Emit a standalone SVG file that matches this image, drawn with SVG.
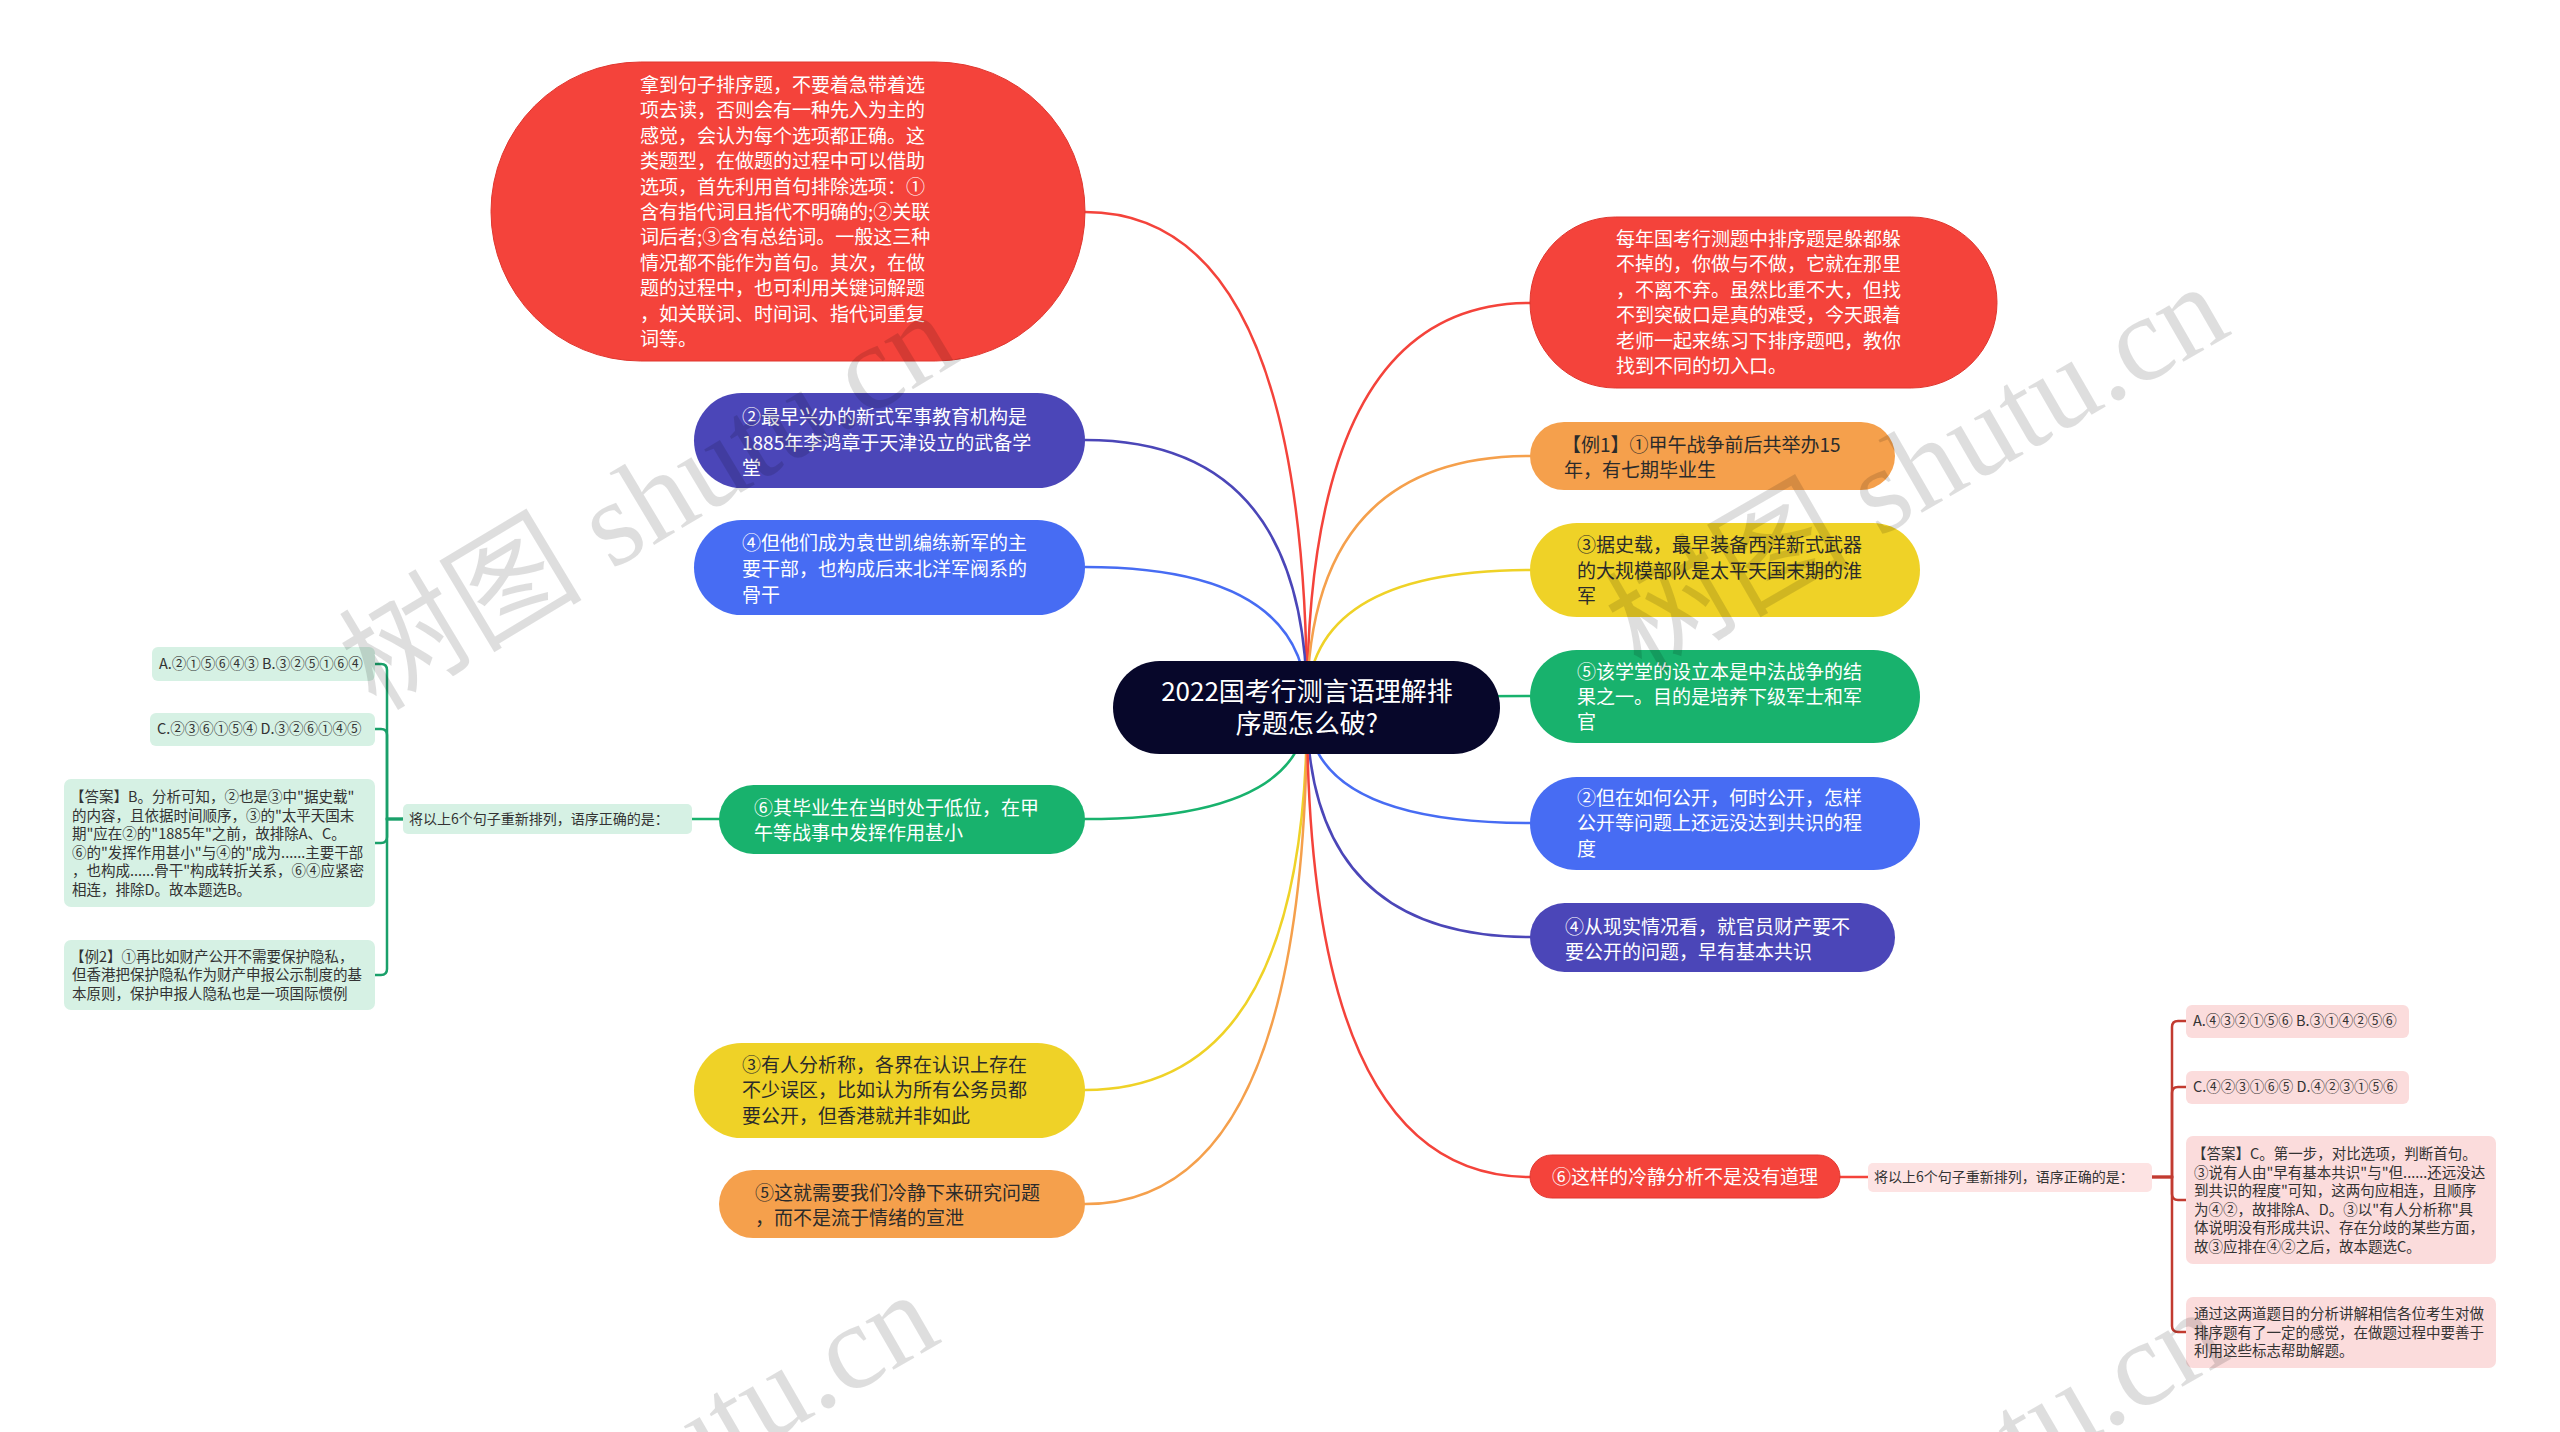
<svg xmlns="http://www.w3.org/2000/svg" width="2560" height="1432" viewBox="0 0 2560 1432">
<style>
.t{font-family:"Noto Sans CJK SC","Liberation Sans",sans-serif;font-size:19px;fill:#ffffff}
.d{fill:#2b2b2b}
.s{font-family:"Noto Sans CJK SC","Liberation Sans",sans-serif;font-size:14.5px;fill:#333333}
.c{fill:none;stroke-width:2.5;stroke-linecap:round}
.wm{font-family:"Liberation Serif","Noto Sans CJK SC",serif;font-size:122px;fill:#000000;fill-opacity:0.13}
</style>
<rect width="2560" height="1432" fill="#ffffff"/>
<g id="connectors">
<path class="c" stroke="#f4433b" d="M1307 707 Q1307 212 1085 212"/>
<path class="c" stroke="#4b46b8" d="M1307 707 Q1307 440 1085 440"/>
<path class="c" stroke="#476cf3" d="M1307 707 Q1307 567 1085 567"/>
<path class="c" stroke="#18b26d" d="M1307 707 Q1307 819 1085 819"/>
<path class="c" stroke="#efd227" d="M1307 707 Q1307 1090 1085 1090"/>
<path class="c" stroke="#f5a04c" d="M1307 707 Q1307 1204 1085 1204"/>
<path class="c" stroke="#f4433b" d="M1307 707 Q1307 303 1530 303"/>
<path class="c" stroke="#f5a04c" d="M1307 707 Q1307 456 1530 456"/>
<path class="c" stroke="#efd227" d="M1307 707 Q1307 570 1530 570"/>
<path class="c" stroke="#18b26d" d="M1307 707 Q1307 696 1530 696"/>
<path class="c" stroke="#476cf3" d="M1307 707 Q1307 823 1530 823"/>
<path class="c" stroke="#4b46b8" d="M1307 707 Q1307 937 1530 937"/>
<path class="c" stroke="#f4433b" d="M1307 707 Q1307 1177 1530 1177"/>
<path class="c" stroke="#18b26d" d="M692 819 H719"/>
<path class="c" stroke="#f4433b" d="M1840 1177 H1868"/>
<path class="c" stroke="#1aa06a" d="M403 819 H387 V670 Q387 664 381 664 H375"/>
<path class="c" stroke="#1aa06a" d="M403 819 H387 V735 Q387 729 381 729 H375"/>
<path class="c" stroke="#1aa06a" d="M403 819 H387 V837 Q387 843 381 843 H375"/>
<path class="c" stroke="#1aa06a" d="M403 819 H387 V969 Q387 975 381 975 H375"/>
<path class="c" stroke="#c23b30" d="M2152 1177 H2172 V1027 Q2172 1021 2178 1021 H2186"/>
<path class="c" stroke="#c23b30" d="M2152 1177 H2172 V1093 Q2172 1087 2178 1087 H2186"/>
<path class="c" stroke="#c23b30" d="M2152 1177 H2172 V1194 Q2172 1200 2178 1200 H2186"/>
<path class="c" stroke="#c23b30" d="M2152 1177 H2172 V1326 Q2172 1332 2178 1332 H2186"/>
</g>
<g id="root">
<rect x="1113" y="661" width="387" height="93" rx="46.5" fill="#07072a"/>
<text class="t" style="font-size:26px" text-anchor="middle" x="1307" y="701">2022国考行测言语理解排</text>
<text class="t" style="font-size:26px" text-anchor="middle" x="1307" y="733">序题怎么破?</text>
</g>
<g id="n-left-red">
<rect x="491" y="62" width="594" height="299" rx="149.5" fill="#f4433b" stroke="#e0372f"/>
<text class="t" x="640"><tspan x="640" y="92">拿到句子排序题，不要着急带着选</tspan><tspan x="640" y="117.4">项去读，否则会有一种先入为主的</tspan><tspan x="640" y="142.8">感觉，会认为每个选项都正确。这</tspan><tspan x="640" y="168.2">类题型，在做题的过程中可以借助</tspan><tspan x="640" y="193.6">选项，首先利用首句排除选项：①</tspan><tspan x="640" y="219">含有指代词且指代不明确的;②关联</tspan><tspan x="640" y="244.4">词后者;③含有总结词。一般这三种</tspan><tspan x="640" y="269.8">情况都不能作为首句。其次，在做</tspan><tspan x="640" y="295.2">题的过程中，也可利用关键词解题</tspan><tspan x="640" y="320.6">，如关联词、时间词、指代词重复</tspan><tspan x="640" y="346">词等。</tspan></text>
</g>
<g id="n-left-2">
<rect x="694" y="393" width="391" height="95" rx="47.5" fill="#4b46b8"/>
<text class="t"><tspan x="742" y="424">②最早兴办的新式军事教育机构是</tspan><tspan x="742" y="450">1885年李鸿章于天津设立的武备学</tspan><tspan x="742" y="475">堂</tspan></text>
</g>
<g id="n-left-4">
<rect x="694" y="520" width="391" height="95" rx="47.5" fill="#476cf3"/>
<text class="t"><tspan x="742" y="550">④但他们成为袁世凯编练新军的主</tspan><tspan x="742" y="576">要干部，也构成后来北洋军阀系的</tspan><tspan x="742" y="602">骨干</tspan></text>
</g>
<g id="n-left-6">
<rect x="719" y="785" width="366" height="69" rx="34.5" fill="#18b26d"/>
<text class="t"><tspan x="754" y="815">⑥其毕业生在当时处于低位，在甲</tspan><tspan x="754" y="840">午等战事中发挥作用甚小</tspan></text>
</g>
<g id="n-left-3">
<rect x="694" y="1043" width="391" height="95" rx="47.5" fill="#efd227"/>
<text class="t d"><tspan x="742" y="1072">③有人分析称，各界在认识上存在</tspan><tspan x="742" y="1097">不少误区，比如认为所有公务员都</tspan><tspan x="742" y="1123">要公开，但香港就并非如此</tspan></text>
</g>
<g id="n-left-5">
<rect x="719" y="1170" width="366" height="68" rx="34" fill="#f5a04c"/>
<text class="t d"><tspan x="755" y="1200">⑤这就需要我们冷静下来研究问题</tspan><tspan x="755" y="1225">，而不是流于情绪的宣泄</tspan></text>
</g>
<g id="n-left-label">
<rect x="403" y="804" width="289" height="30" rx="5" fill="#d6f1e4"/>
<text class="s" style="font-size:14px" x="409" y="824">将以上6个句子重新排列，语序正确的是：</text>
</g>
<g id="n-left-a">
<rect x="152" y="647" width="223" height="34" rx="6" fill="#d6f1e4"/>
<text class="s" x="159" y="669">A.②①⑤⑥④③ B.③②⑤①⑥④</text>
</g>
<g id="n-left-c">
<rect x="150" y="713" width="225" height="33" rx="6" fill="#d6f1e4"/>
<text class="s" x="157" y="734">C.②③⑥①⑤④ D.③②⑥①④⑤</text>
</g>
<g id="n-left-ans">
<rect x="64" y="779" width="311" height="128" rx="7" fill="#d6f1e4"/>
<text class="s"><tspan x="70" y="802">【答案】B。分析可知，②也是③中"据史载"</tspan><tspan x="72" y="820.5">的内容，且依据时间顺序，③的"太平天国末</tspan><tspan x="72" y="839">期"应在②的"1885年"之前，故排除A、C。</tspan><tspan x="72" y="857.5">⑥的"发挥作用甚小"与④的"成为......主要干部</tspan><tspan x="72" y="876">，也构成......骨干"构成转折关系，⑥④应紧密</tspan><tspan x="72" y="894.5">相连，排除D。故本题选B。</tspan></text>
</g>
<g id="n-left-ex2">
<rect x="64" y="940" width="311" height="70" rx="7" fill="#d6f1e4"/>
<text class="s"><tspan x="70" y="961.5">【例2】①再比如财产公开不需要保护隐私，</tspan><tspan x="72" y="980">但香港把保护隐私作为财产申报公示制度的基</tspan><tspan x="72" y="998.5">本原则，保护申报人隐私也是一项国际惯例</tspan></text>
</g>
<g id="n-right-red">
<rect x="1530" y="217" width="467" height="171" rx="85.5" fill="#f4433b" stroke="#e0372f"/>
<text class="t"><tspan x="1616" y="246">每年国考行测题中排序题是躲都躲</tspan><tspan x="1616" y="271.4">不掉的，你做与不做，它就在那里</tspan><tspan x="1616" y="296.8">，不离不弃。虽然比重不大，但找</tspan><tspan x="1616" y="322.2">不到突破口是真的难受，今天跟着</tspan><tspan x="1616" y="347.6">老师一起来练习下排序题吧，教你</tspan><tspan x="1616" y="373">找到不同的切入口。</tspan></text>
</g>
<g id="n-right-ex1">
<rect x="1530" y="422" width="365" height="68" rx="34" fill="#f5a04c"/>
<text class="t d"><tspan x="1562" y="452">【例1】①甲午战争前后共举办15</tspan><tspan x="1564" y="477">年，有七期毕业生</tspan></text>
</g>
<g id="n-right-3">
<rect x="1530" y="523" width="390" height="94" rx="47" fill="#efd227"/>
<text class="t d"><tspan x="1577" y="552">③据史载，最早装备西洋新式武器</tspan><tspan x="1577" y="578">的大规模部队是太平天国末期的淮</tspan><tspan x="1577" y="603">军</tspan></text>
</g>
<g id="n-right-5">
<rect x="1530" y="650" width="390" height="93" rx="46.5" fill="#18b26d"/>
<text class="t"><tspan x="1577" y="679">⑤该学堂的设立本是中法战争的结</tspan><tspan x="1577" y="704">果之一。目的是培养下级军士和军</tspan><tspan x="1577" y="729">官</tspan></text>
</g>
<g id="n-right-2">
<rect x="1530" y="777" width="390" height="93" rx="46.5" fill="#476cf3"/>
<text class="t"><tspan x="1577" y="805">②但在如何公开，何时公开，怎样</tspan><tspan x="1577" y="830">公开等问题上还远没达到共识的程</tspan><tspan x="1577" y="856">度</tspan></text>
</g>
<g id="n-right-4">
<rect x="1530" y="903" width="365" height="69" rx="34.5" fill="#4b46b8"/>
<text class="t"><tspan x="1565" y="934">④从现实情况看，就官员财产要不</tspan><tspan x="1565" y="959">要公开的问题，早有基本共识</tspan></text>
</g>
<g id="n-right-6">
<rect x="1530" y="1155" width="310" height="43" rx="21.5" fill="#f4433b" stroke="#e0372f"/>
<text class="t" x="1552" y="1184">⑥这样的冷静分析不是没有道理</text>
</g>
<g id="n-right-label">
<rect x="1868" y="1163" width="284" height="29" rx="5" fill="#fde3e3"/>
<text class="s" style="font-size:14px" x="1874" y="1182">将以上6个句子重新排列，语序正确的是：</text>
</g>
<g id="n-right-a">
<rect x="2186" y="1005" width="223" height="33" rx="6" fill="#fbdcdc"/>
<text class="s" x="2193" y="1026">A.④③②①⑤⑥ B.③①④②⑤⑥</text>
</g>
<g id="n-right-c">
<rect x="2186" y="1071" width="223" height="33" rx="6" fill="#fbdcdc"/>
<text class="s" x="2193" y="1092">C.④②③①⑥⑤ D.④②③①⑤⑥</text>
</g>
<g id="n-right-ans">
<rect x="2186" y="1136" width="310" height="128" rx="7" fill="#fbdcdc"/>
<text class="s"><tspan x="2192" y="1159">【答案】C。第一步，对比选项，判断首句。</tspan><tspan x="2194" y="1177.5">③说有人由"早有基本共识"与"但......还远没达</tspan><tspan x="2194" y="1196">到共识的程度"可知，这两句应相连，且顺序</tspan><tspan x="2194" y="1214.5">为④②，故排除A、D。③以"有人分析称"具</tspan><tspan x="2194" y="1233">体说明没有形成共识、存在分歧的某些方面，</tspan><tspan x="2194" y="1251.5">故③应排在④②之后，故本题选C。</tspan></text>
</g>
<g id="n-right-end">
<rect x="2186" y="1297" width="310" height="71" rx="7" fill="#fbdcdc"/>
<text class="s"><tspan x="2194" y="1319">通过这两道题目的分析讲解相信各位考生对做</tspan><tspan x="2194" y="1337.5">排序题有了一定的感觉，在做题过程中要善于</tspan><tspan x="2194" y="1356">利用这些标志帮助解题。</tspan></text>
</g>
<g id="watermarks">
<text class="wm" transform="translate(376 712) rotate(-31)">树图 shutu.cn</text>
<text class="wm" transform="translate(1641 675) rotate(-30)">树图 shutu.cn</text>
<text class="wm" transform="translate(351 1683) rotate(-30)">树图 shutu.cn</text>
<text class="wm" transform="translate(1640 1700) rotate(-30)">树图 shutu.cn</text>
</g>
</svg>
